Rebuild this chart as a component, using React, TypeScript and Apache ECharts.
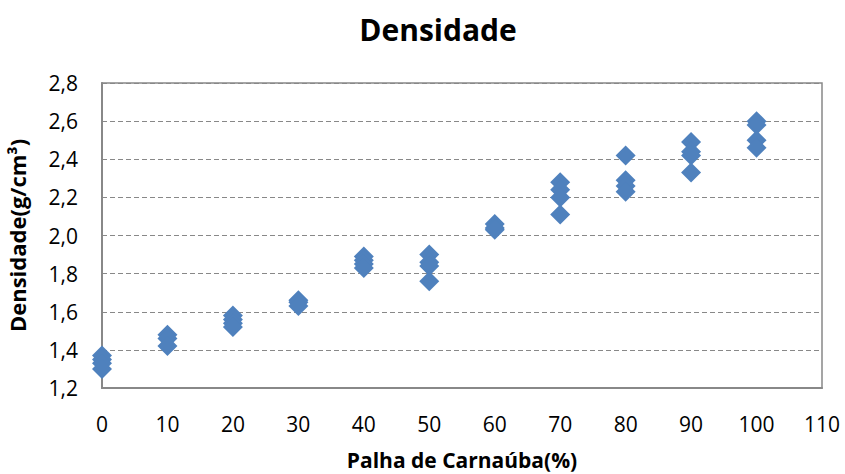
import React, { useEffect, useRef } from "react";
import * as echarts from "echarts";

const categories = [0, 10, 20, 30, 40, 50, 60, 70, 80, 90, 100];
const densities: number[][] = [
  [1.37, 1.35, 1.33, 1.3],
  [1.48, 1.46, 1.42],
  [1.58, 1.56, 1.54, 1.52],
  [1.66, 1.65, 1.63],
  [1.89, 1.87, 1.85, 1.83],
  [1.9, 1.86, 1.84, 1.76],
  [2.06, 2.04, 2.03],
  [2.28, 2.24, 2.2, 2.11],
  [2.42, 2.29, 2.26, 2.23],
  [2.49, 2.44, 2.42, 2.33],
  [2.6, 2.58, 2.5, 2.46],
];

const title = "Densidade";
const xName = "Palha de Carnaúba(%)";
const yName = "Densidade(g/cm³)";

export default function App() {
  const ref = useRef<HTMLDivElement>(null);
  useEffect(() => {
    if (!ref.current) return;
    const chart = echarts.init(ref.current, null, { renderer: "svg" });
    const points: number[][] = [];
    categories.forEach((c, i) => densities[i].forEach((v) => points.push([c, v])));
    const font = "'Open Sans', sans-serif";
    chart.setOption({
      animation: false,
      backgroundColor: "#ffffff",
      title: {
        text: title,
        left: 433,
        textAlign: "center",
        top: 9,
        textStyle: { fontFamily: font, fontSize: 30, fontWeight: "bold", color: "#000" },
      },
      grid: {
        left: 102,
        right: 23,
        top: 83,
        bottom: 86,
        outerBoundsMode: "none",
        containLabel: false,
        show: true,
        borderColor: "#888888",
        borderWidth: 1.5,
      },
      xAxis: {
        type: "value",
        min: 0,
        max: 110,
        interval: 10,
        name: xName,
        nameLocation: "middle",
        nameGap: 61,
        nameTextStyle: {
          fontFamily: font,
          fontSize: 21,
          fontWeight: "bold",
          color: "#000",
          lineHeight: 22,
        },
        axisLine: { show: true, lineStyle: { color: "#888888", width: 2 } },
        axisTick: { show: false },
        splitLine: { show: false },
        axisLabel: { fontFamily: font, fontSize: 21, color: "#000", margin: 25 },
      },
      yAxis: {
        type: "value",
        min: 1.2,
        max: 2.8,
        interval: 0.2,
        name: yName,
        nameLocation: "middle",
        nameGap: 74,
        nameRotate: 90,
        nameTextStyle: { fontFamily: font, fontSize: 22, fontWeight: "bold", color: "#000" },
        axisLine: { show: true, lineStyle: { color: "#888888", width: 2 } },
        axisTick: { show: false },
        splitLine: { show: true, lineStyle: { color: "#888888", type: [5, 3], width: 1.2 } },
        axisLabel: {
          fontFamily: font,
          fontSize: 21,
          color: "#000",
          margin: 24,
          formatter: (v: number) => v.toFixed(1).replace(".", ","),
        },
      },
      series: [
        {
          type: "scatter",
          data: points,
          symbol: "diamond",
          symbolSize: 20,
          itemStyle: { color: "#4F81BD", opacity: 1 },
        },
      ],
    });
    return () => chart.dispose();
  }, []);
  return (
    <div
      ref={ref}
      style={{ position: "fixed", left: 0, top: 0, width: 845, height: 474 }}
    />
  );
}
